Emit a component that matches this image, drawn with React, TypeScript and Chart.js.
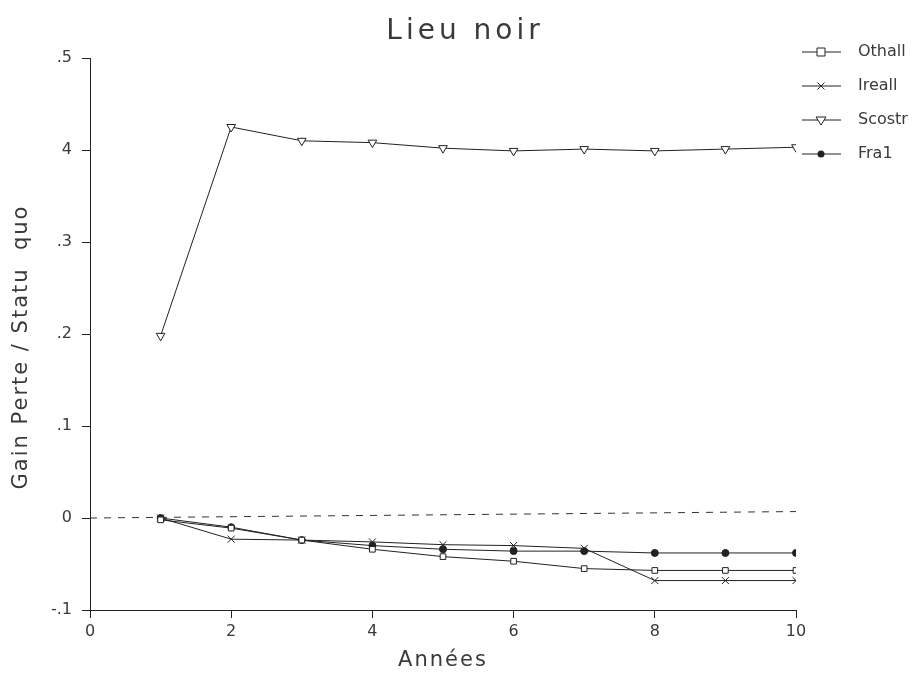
import React, { useEffect, useRef } from "react";
import { Chart, registerables } from "chart.js";

Chart.register(...registerables);

const years = [1, 2, 3, 4, 5, 6, 7, 8, 9, 10];
const othall = [-0.002, -0.011, -0.024, -0.034, -0.042, -0.047, -0.055, -0.057, -0.057, -0.057];
const ireall = [0.0, -0.023, -0.024, -0.026, -0.029, -0.03, -0.033, -0.068, -0.068, -0.068];
const scostr = [0.198, 0.425, 0.41, 0.408, 0.402, 0.399, 0.401, 0.399, 0.401, 0.403];
const fra1 = [0.0, -0.01, -0.024, -0.03, -0.034, -0.036, -0.036, -0.038, -0.038, -0.038];
const refX = [0, 10];
const refY = [0.0, 0.007];
const yTickLabels: Record<string, string> = {
  "-0.1": "-.1",
  "0": "0",
  "0.1": ".1",
  "0.2": ".2",
  "0.3": ".3",
  "0.4": "4",
  "0.5": ".5",
};
const titleText = "Lieu noir";
const xTitle = "Années";
const yTitle = "Gain Perte / Statu  quo";
const seriesNames = ["Othall", "Ireall", "Scostr", "Fra1"];

const FONT = "'DejaVu Sans', sans-serif";
const INK = "#222";
const TXT = "#3a3a3a";

const pts = (ys: number[]) => years.map((x, i) => ({ x, y: ys[i] }));

function drawMarker(ctx: CanvasRenderingContext2D, kind: number, x: number, y: number) {
  ctx.save();
  ctx.strokeStyle = INK;
  ctx.lineWidth = 1;
  ctx.beginPath();
  if (kind === 0) {
    ctx.fillStyle = "#fff";
    ctx.rect(x - 4, y - 4, 8, 8);
    ctx.fill();
    ctx.stroke();
  } else if (kind === 1) {
    ctx.moveTo(x - 3.5, y - 3.5);
    ctx.lineTo(x + 3.5, y + 3.5);
    ctx.moveTo(x + 3.5, y - 3.5);
    ctx.lineTo(x - 3.5, y + 3.5);
    ctx.stroke();
  } else if (kind === 2) {
    ctx.fillStyle = "#fff";
    ctx.moveTo(x - 5, y - 3);
    ctx.lineTo(x + 5, y - 3);
    ctx.lineTo(x, y + 5);
    ctx.closePath();
    ctx.fill();
    ctx.stroke();
  } else {
    ctx.fillStyle = INK;
    ctx.arc(x, y, 3.5, 0, Math.PI * 2);
    ctx.fill();
  }
  ctx.restore();
}

export default function App() {
  const ref = useRef<HTMLCanvasElement | null>(null);
  useEffect(() => {
    if (!ref.current) return;
    const styles: any[] = [
      { pointStyle: "rect", radius: 4, rotation: 0, fill: false },
      { pointStyle: "crossRot", radius: 5, rotation: 0, fill: false },
      { pointStyle: "triangle", radius: 5, rotation: 180, fill: false },
      { pointStyle: "circle", radius: 3.5, rotation: 0, fill: true },
    ];
    const data = [othall, ireall, scostr, fra1];
    const datasets: any[] = data.map((d, i) => ({
      label: seriesNames[i],
      data: pts(d),
      borderColor: INK,
      borderWidth: 1,
      pointStyle: styles[i].pointStyle,
      pointRadius: styles[i].radius,
      pointRotation: styles[i].rotation,
      pointBorderColor: INK,
      pointBorderWidth: 1,
      pointBackgroundColor: styles[i].fill ? INK : "#fff",
      tension: 0,
    }));
    datasets.push({
      label: "ref",
      data: refX.map((x, i) => ({ x, y: refY[i] })),
      borderColor: "#333",
      borderWidth: 1,
      borderDash: [7, 7],
      pointRadius: 0,
    });

    const overlay = {
      id: "overlay",
      afterDraw(chart: any) {
        const ctx = chart.ctx;
        ctx.save();
        ctx.fillStyle = TXT;
        ctx.textAlign = "center";
        ctx.textBaseline = "middle";
        (ctx as any).letterSpacing = "4px";
        ctx.font = `28px ${FONT}`;
        ctx.fillText(titleText, 465, 32);
        (ctx as any).letterSpacing = "2px";
        ctx.font = `21px ${FONT}`;
        ctx.fillText(xTitle, 443, 661);
        ctx.save();
        ctx.translate(22, 347);
        ctx.rotate(-Math.PI / 2);
        ctx.fillText(yTitle, 0, 0);
        ctx.restore();
        (ctx as any).letterSpacing = "0px";
        ctx.font = `16px ${FONT}`;
        ctx.textAlign = "left";
        for (let i = 0; i < seriesNames.length; i++) {
          const y = 52 + 34 * i;
          ctx.strokeStyle = INK;
          ctx.lineWidth = 1;
          ctx.beginPath();
          ctx.moveTo(802, y);
          ctx.lineTo(841, y);
          ctx.stroke();
          drawMarker(ctx, i, 821, y);
          ctx.fillStyle = TXT;
          ctx.fillText(seriesNames[i], 858, y);
        }
        ctx.restore();
      },
    };

    const chart = new Chart(ref.current, {
      type: "line",
      data: { datasets },
      options: {
        animation: false,
        responsive: false,
        layout: { padding: { top: 58, right: 122, left: 0, bottom: 0 } },
        plugins: { legend: { display: false }, tooltip: { enabled: false }, title: { display: false } },
        scales: {
          x: {
            type: "linear",
            min: 0,
            max: 10,
            afterFit: (s: any) => { s.height = 64; },
            ticks: { stepSize: 2, color: TXT, font: { family: FONT, size: 16 }, padding: 4 },
            grid: { drawOnChartArea: false, tickLength: 8, color: INK },
            border: { color: INK, width: 1 },
          },
          y: {
            min: -0.1,
            max: 0.5,
            afterFit: (s: any) => { s.width = 90; },
            ticks: {
              stepSize: 0.1,
              color: TXT,
              font: { family: FONT, size: 16 },
              padding: 10,
              callback: (v: any) => {
                const k = String(Math.round(Number(v) * 10) / 10);
                return yTickLabels[k] ?? k;
              },
            },
            grid: { drawOnChartArea: false, tickLength: 8, color: INK },
            border: { color: INK, width: 1 },
          },
        },
      },
      plugins: [overlay],
    });
    return () => chart.destroy();
  }, []);
  return (
    <div style={{ position: "absolute", left: 0, top: 0, width: 918, height: 674, background: "#fff" }}>
      <canvas ref={ref} width={918} height={674} />
    </div>
  );
}
